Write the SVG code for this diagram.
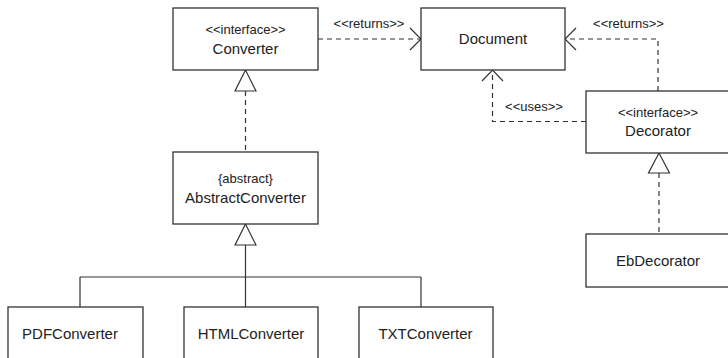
<svg xmlns="http://www.w3.org/2000/svg" width="728" height="358" viewBox="0 0 728 358">
<style>
.box{fill:#fff;stroke:#333;stroke-width:1.3}
.name{font-family:"Liberation Sans",Arial,sans-serif;font-size:15px;fill:#222;text-anchor:middle}
.st{font-family:"Liberation Sans",Arial,sans-serif;font-size:13px;fill:#222;text-anchor:middle}
.dash{fill:none;stroke:#333;stroke-width:1.2;stroke-dasharray:5,4}
.solid{fill:none;stroke:#333;stroke-width:1.2}
.tri{fill:#fff;stroke:#333;stroke-width:1.2}
.open{fill:none;stroke:#333;stroke-width:1.2}
</style>
<rect width="728" height="358" fill="#fff"/>
<g id="connectors">
  <!-- AbstractConverter realizes Converter -->
  <line class="dash" x1="245.5" y1="91" x2="245.5" y2="152"/>
  <polygon class="tri" points="245.5,70 235,91 256,91"/>
  <!-- generalization tree -->
  <path class="solid" d="M245.5,245 V277 M80,277 H421 M80,277 V307 M245.5,277 V307 M421,277 V307"/>
  <polygon class="tri" points="245.5,224 235,245 256,245"/>
  <!-- Converter returns Document -->
  <line class="dash" x1="318" y1="39" x2="420" y2="39"/>
  <polyline class="open" points="410,28 421,39 410,50"/>
  <text class="st" x="369" y="28">&lt;&lt;returns&gt;&gt;</text>
  <!-- Decorator returns Document -->
  <path class="dash" d="M658,91 V39 H566"/>
  <polyline class="open" points="576,28 565,39 576,50"/>
  <text class="st" x="628.5" y="28">&lt;&lt;returns&gt;&gt;</text>
  <!-- Decorator uses Document -->
  <path class="dash" d="M586,121.5 H492.5 V71"/>
  <polyline class="open" points="482,81 492.5,70 503,81"/>
  <text class="st" x="534" y="111">&lt;&lt;uses&gt;&gt;</text>
  <!-- EbDecorator realizes Decorator -->
  <line class="dash" x1="659" y1="173" x2="659" y2="234"/>
  <polygon class="tri" points="659,153 648.5,173 669.5,173"/>
</g>
<g id="converter">
  <rect class="box" x="173" y="8" width="145" height="62"/>
  <text class="st" x="245.5" y="34">&lt;&lt;interface&gt;&gt;</text>
  <text class="name" x="245.5" y="54">Converter</text>
</g>
<g id="document">
  <rect class="box" x="421" y="8" width="144" height="62"/>
  <text class="name" x="493" y="44">Document</text>
</g>
<g id="abstractconverter">
  <rect class="box" x="173" y="152" width="145" height="72"/>
  <text class="st" x="245.5" y="183">{abstract}</text>
  <text class="name" x="245.5" y="203">AbstractConverter</text>
</g>
<g id="decorator">
  <rect class="box" x="586" y="91" width="145" height="62"/>
  <text class="st" x="658" y="117">&lt;&lt;interface&gt;&gt;</text>
  <text class="name" x="658" y="136">Decorator</text>
</g>
<g id="ebdecorator">
  <rect class="box" x="586" y="234" width="145" height="53"/>
  <text class="name" x="658" y="266">EbDecorator</text>
</g>
<g id="pdfconverter">
  <rect class="box" x="8" y="307" width="135" height="60"/>
  <text class="name" x="70" y="339">PDFConverter</text>
</g>
<g id="htmlconverter">
  <rect class="box" x="184" y="307" width="134" height="60"/>
  <text class="name" x="251" y="339">HTMLConverter</text>
</g>
<g id="txtconverter">
  <rect class="box" x="359" y="307" width="134" height="60"/>
  <text class="name" x="425.5" y="339">TXTConverter</text>
</g>
</svg>
